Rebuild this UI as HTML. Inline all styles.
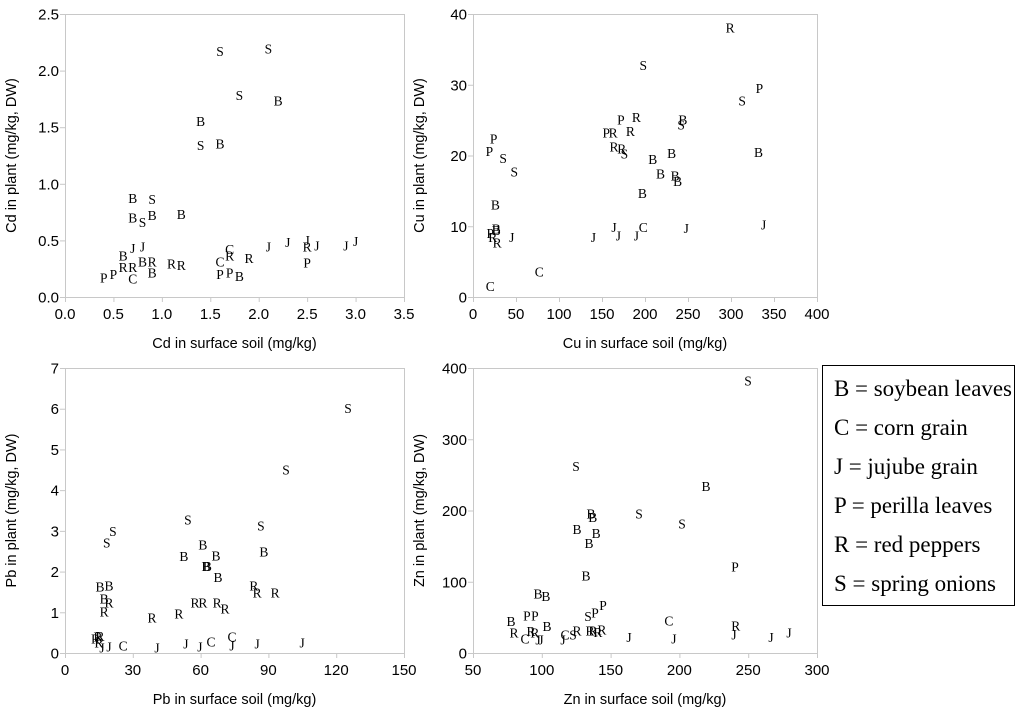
<!DOCTYPE html>
<html><head><meta charset="utf-8"><style>
body{margin:0;background:#fff;width:1024px;height:717px;overflow:hidden}
svg{display:block}
.tk{font-family:"Liberation Sans",Arial,sans-serif;font-size:15px;fill:#000}
.ax{font-family:"Liberation Sans",Arial,sans-serif;font-size:14.5px;fill:#000}
.pt{font-family:"Liberation Serif","Times New Roman",serif;font-size:13.5px;fill:#000}
.lg{font-family:"Liberation Serif","Times New Roman",serif;font-size:23px;fill:#000}
</style></head><body>
<svg id="chart" width="1024" height="717">
<g>
<rect x="822.5" y="365.5" width="192" height="240" fill="#fff" stroke="#000" stroke-width="1"/>
<text class="lg" x="834" y="396" textLength="178" lengthAdjust="spacingAndGlyphs">B = soybean leaves</text>
<text class="lg" x="834" y="435">C = corn grain</text>
<text class="lg" x="834" y="474">J = jujube grain</text>
<text class="lg" x="834" y="513">P = perilla leaves</text>
<text class="lg" x="834" y="552">R = red peppers</text>
<text class="lg" x="834" y="591" textLength="162" lengthAdjust="spacingAndGlyphs">S = spring onions</text>
</g>
</svg>
<script>
// Panel 1: Cd
const cdX=[1.6,2.1,1.8,2.2,1.4,1.4,1.6,0.7,0.9,0.7,0.8,0.9,1.2,0.7,0.8,0.6,0.6,0.7,0.8,0.9,1.1,1.2,0.4,0.5,0.7,0.9,1.7,1.7,1.6,1.9,1.6,1.7,1.8,2.1,2.3,2.5,2.5,2.6,2.5,2.9,3.0];
const cdY=[2.17,2.19,1.78,1.73,1.55,1.34,1.35,0.87,0.86,0.70,0.66,0.72,0.73,0.43,0.44,0.36,0.26,0.26,0.31,0.31,0.29,0.28,0.17,0.20,0.16,0.21,0.42,0.36,0.31,0.34,0.20,0.21,0.18,0.44,0.48,0.50,0.44,0.45,0.30,0.45,0.49];
const cdL="SSSBBSBBSBSBBJJBRRBRRRPPCBCRCRPPBJJJRJPJJ";
// Panel 2: Cu
const cuX=[299,198,333,313,332,172,190,244,242,155,163,183,164,173,176,24,19,35,48,209,231,218,235,238,197,26,27,27,20,23,28,45,140,164,169,190,198,248,338,77,20];
const cuY=[38.0,32.7,29.5,27.7,20.4,25.0,25.4,25.0,24.3,23.2,23.2,23.4,21.2,20.9,20.2,22.3,20.6,19.6,17.7,19.4,20.3,17.4,17.1,16.3,14.6,13.0,9.4,9.6,9.0,8.4,7.6,8.4,8.4,9.8,8.6,8.6,9.8,9.7,10.2,3.5,1.5];
const cuL="RSPSBPRBSPRRRRSPPSSBBBBBBBBBPRRJJJJJCJJCC";
// Panel 3: Pb
const pbX=[125.2,97.8,54.4,86.7,21.2,18.5,61,52.6,66.8,62.4,63,67.7,88,15.5,19.5,17.3,19.5,17.3,38.5,50.4,57.5,61,67.3,70.8,83.6,85,93,14.6,13.5,15.5,15,16.4,19.5,25.7,40.7,53.5,59.7,64.6,73.9,73.9,85,104.9];
const pbY=[6.0,4.5,3.27,3.12,2.98,2.70,2.65,2.37,2.38,2.12,2.12,1.85,2.48,1.62,1.65,1.33,1.23,1.01,0.86,0.96,1.23,1.23,1.23,1.08,1.65,1.47,1.47,0.39,0.35,0.40,0.25,0.12,0.15,0.17,0.12,0.22,0.15,0.27,0.39,0.17,0.22,0.25];
const pbL="SSSSSSBBBBBBBBBBRRRRRRRRRRRRRRRJJCJJJCCJJJ";
// Panel 4: Zn
const znX=[249.9,124.9,219.3,170.6,135.8,137,201.9,125.6,139.5,134.3,240.4,132.1,97.2,103,77.6,79.8,89.2,95,103.8,87.8,92.2,95,97.2,99.4,116.9,115.4,122.7,125.6,133.6,138.7,144.5,135,137.2,140.8,143.7,163.4,192.4,196,241,239.7,266.6,279.7];
const znY=[382,262,234,195,195,190,181,173,168,154,121,108,83,79,44,28,52,52,37,20,30,28,18,18,25,18,25,31,51,56,67,31,31,29,32,22,45,20,38,25,22,28];
const znL="SSBSBBSBBBPBBBBRPPBCRRJJCJSRSPPRRRRJCJRJJJ";

const panels=[
 {name:'cd',xs:cdX,ys:cdY,ls:cdL,x0:65,x1:404,y0:297,y1:14,xmin:0,xmax:3.5,ymin:0,ymax:2.5,
  xt:['0.0','0.5','1.0','1.5','2.0','2.5','3.0','3.5'],yt:['0.0','0.5','1.0','1.5','2.0','2.5'],
  xl:'Cd in surface soil (mg/kg)',yl:'Cd in plant (mg/kg, DW)'},
 {name:'cu',xs:cuX,ys:cuY,ls:cuL,x0:473,x1:817,y0:297,y1:14,xmin:0,xmax:400,ymin:0,ymax:40,
  xt:['0','50','100','150','200','250','300','350','400'],yt:['0','10','20','30','40'],
  xl:'Cu in surface soil (mg/kg)',yl:'Cu in plant (mg/kg, DW)'},
 {name:'pb',xs:pbX,ys:pbY,ls:pbL,x0:65,x1:404,y0:653,y1:368,xmin:0,xmax:150,ymin:0,ymax:7,
  xt:['0','30','60','90','120','150'],yt:['0','1','2','3','4','5','6','7'],
  xl:'Pb in surface soil (mg/kg)',yl:'Pb in plant (mg/kg, DW)'},
 {name:'zn',xs:znX,ys:znY,ls:znL,x0:473,x1:817,y0:653,y1:368,xmin:50,xmax:300,ymin:0,ymax:400,
  xt:['50','100','150','200','250','300'],yt:['0','100','200','300','400'],
  xl:'Zn in surface soil (mg/kg)',yl:'Zn in plant (mg/kg, DW)'}
];
const NS='http://www.w3.org/2000/svg';
const svg=document.getElementById('chart');
function mk(tag,attrs,parent){const e=document.createElementNS(NS,tag);for(const k in attrs)e.setAttribute(k,attrs[k]);parent.appendChild(e);return e;}
panels.forEach(p=>{
 const g=mk('g',{},svg);
 
 
 const sx=v=>p.x0+(v-p.xmin)/(p.xmax-p.xmin)*(p.x1-p.x0);
 const sy=v=>p.y0-(v-p.ymin)/(p.ymax-p.ymin)*(p.y0-p.y1);
 const fr=mk('rect',{x:p.x0+0.5,y:p.y1+0.5,width:p.x1-p.x0,height:p.y0-p.y1,fill:'none',stroke:'#c8c8c8','stroke-width':1},g);
 
 
 p.xt.forEach(t=>{const x=sx(parseFloat(t));
  mk('line',{x1:x+0.5,x2:x+0.5,y1:p.y0,y2:p.y0+5,stroke:'#c8c8c8'},g);
  const tx=mk('text',{x:x,y:p.y0+22,'text-anchor':'middle',class:'tk'},g);tx.textContent=t;
  
  });
 p.yt.forEach(t=>{const y=sy(parseFloat(t));
  mk('line',{x1:p.x0-5,x2:p.x0,y1:y+0.5,y2:y+0.5,stroke:'#c8c8c8'},g);
  const tx=mk('text',{x:p.x0-6,y:y+5.5,'text-anchor':'end',class:'tk'},g);tx.textContent=t;
  
  });
 const xl=mk('text',{x:(p.x0+p.x1)/2,y:p.y0+51,'text-anchor':'middle',class:'ax'},g);xl.textContent=p.xl;
 
 
 const cy=(p.y0+p.y1)/2,cx=p.x0-49;
 const yl=mk('text',{x:cx,y:cy,'text-anchor':'middle',class:'ax',transform:`rotate(-90 ${cx} ${cy})`},g);yl.textContent=p.yl;
 
 
 p.xs.forEach((v,i)=>{
  const t=mk('text',{x:sx(v),y:sy(p.ys[i])+4.5,'text-anchor':'middle',class:'pt'},g);
  t.textContent=p.ls[i];
  
  
 });
});
</script>
</body></html>
